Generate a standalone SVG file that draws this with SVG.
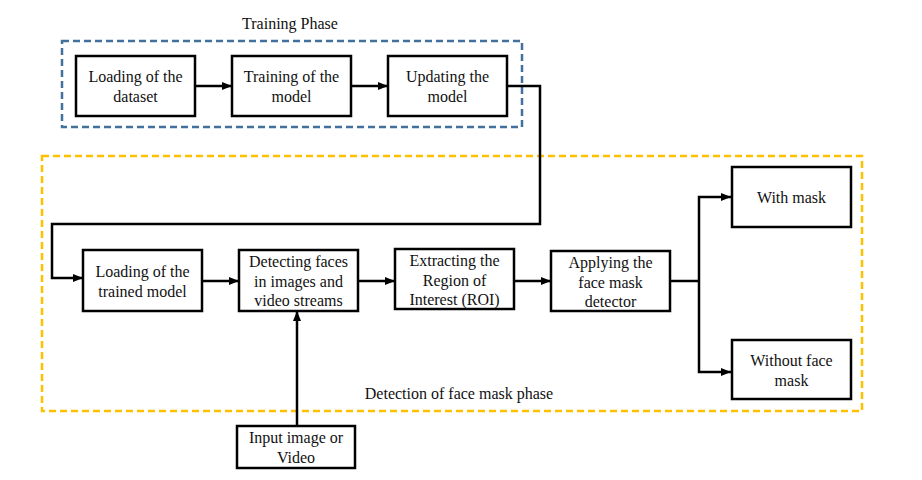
<svg xmlns="http://www.w3.org/2000/svg" width="922" height="480" viewBox="0 0 922 480">
<style>
.box{fill:#fff;stroke:#000;stroke-width:2.5}
.t{font-family:'Liberation Serif','DejaVu Serif',serif;font-size:16px;fill:#111;text-anchor:middle}
.c{fill:none;stroke:#000;stroke-width:2.5}
.blue{fill:none;stroke:#41719C;stroke-width:2.5;stroke-dasharray:7 4}
.yel{fill:none;stroke:#FFC000;stroke-width:2.5;stroke-dasharray:7 4}
</style>
<defs>
<marker id="ah" markerWidth="10" markerHeight="8" refX="10" refY="4" orient="auto" markerUnits="userSpaceOnUse">
<path d="M0,0 L10,4 L0,8 Z" fill="#000"/>
</marker>
</defs>
<rect width="922" height="480" fill="#fff"/>
<g id="training-phase">
<rect class="blue" x="62" y="41" width="460" height="86"/>
<text class="t" x="290" y="29">Training Phase</text>
</g>
<g id="detection-phase">
<rect class="yel" x="42" y="156" width="820" height="255"/>
<text class="t" x="459" y="399">Detection of face mask phase</text>
</g>
<g id="connectors">
<path class="c" d="M195,86 H232" marker-end="url(#ah)"/>
<path class="c" d="M351,86 H388" marker-end="url(#ah)"/>
<path class="c" d="M507,86 H540 V224 H52 V278 H83" marker-end="url(#ah)"/>
<path class="c" d="M202,281 H239" marker-end="url(#ah)"/>
<path class="c" d="M358,281 H395" marker-end="url(#ah)"/>
<path class="c" d="M514,281 H551" marker-end="url(#ah)"/>
<path class="c" d="M670,281 H699"/>
<path class="c" d="M699,281 V197 H731" marker-end="url(#ah)"/>
<path class="c" d="M699,281 V372 H731" marker-end="url(#ah)"/>
<path class="c" d="M297,426 V311" marker-end="url(#ah)"/>
</g>
<g id="n-loading-dataset">
<rect class="box" x="76" y="56" width="119" height="60"/>
<text class="t" x="135.5" y="81.5">Loading of the</text>
<text class="t" x="135.5" y="101.5">dataset</text>
</g>
<g id="n-training-model">
<rect class="box" x="232" y="56" width="119" height="60"/>
<text class="t" x="291.5" y="81.5">Training of the</text>
<text class="t" x="291.5" y="101.5">model</text>
</g>
<g id="n-updating-model">
<rect class="box" x="388" y="56" width="119" height="60"/>
<text class="t" x="447.5" y="81.5">Updating the</text>
<text class="t" x="447.5" y="101.5">model</text>
</g>
<g id="n-loading-trained">
<rect class="box" x="83" y="250" width="119" height="61"/>
<text class="t" x="142.5" y="276.5">Loading of the</text>
<text class="t" x="142.5" y="296.5">trained model</text>
</g>
<g id="n-detecting">
<rect class="box" x="239" y="250" width="119" height="61"/>
<text class="t" x="298.5" y="267">Detecting faces</text>
<text class="t" x="298.5" y="286.5">in images and</text>
<text class="t" x="298.5" y="306">video streams</text>
</g>
<g id="n-extracting">
<rect class="box" x="395" y="249" width="119" height="60"/>
<text class="t" x="454.5" y="266">Extracting the</text>
<text class="t" x="454.5" y="285.5">Region of</text>
<text class="t" x="454.5" y="305">Interest (ROI)</text>
</g>
<g id="n-applying">
<rect class="box" x="551" y="251" width="119" height="60"/>
<text class="t" x="610.5" y="268">Applying the</text>
<text class="t" x="610.5" y="287.5">face mask</text>
<text class="t" x="610.5" y="307">detector</text>
</g>
<g id="n-with-mask">
<rect class="box" x="732" y="167" width="119" height="60"/>
<text class="t" x="791.5" y="202.5">With mask</text>
</g>
<g id="n-without-mask">
<rect class="box" x="732" y="340" width="119" height="59"/>
<text class="t" x="791.5" y="366">Without face</text>
<text class="t" x="791.5" y="386">mask</text>
</g>
<g id="n-input">
<rect class="box" x="237" y="426" width="118" height="42"/>
<text class="t" x="296" y="443">Input image or</text>
<text class="t" x="296" y="463">Video</text>
</g>
</svg>
